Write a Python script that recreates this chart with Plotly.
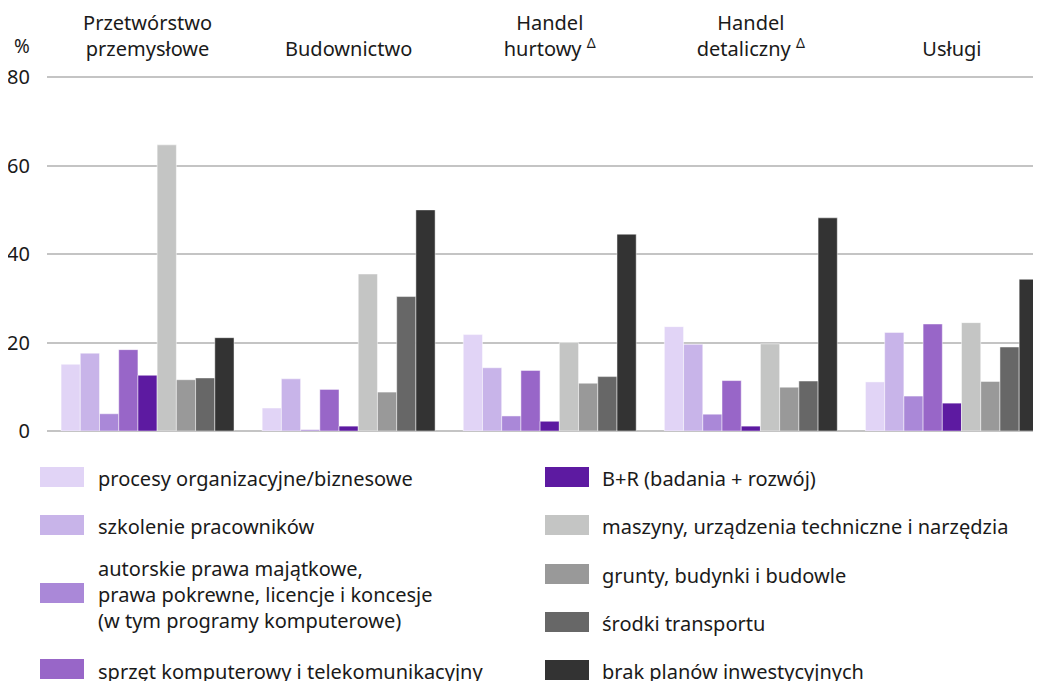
import plotly.graph_objects as go

# ---------------- data ----------------
categories = ["Przetwórstwo<br>przemysłowe", "Budownictwo", "Handel<br>hurtowy <sup>Δ</sup>",
              "Handel<br>detaliczny <sup>Δ</sup>", "Usługi"]

series_names = [
    "procesy organizacyjne/biznesowe",
    "szkolenie pracowników",
    "autorskie prawa majątkowe,<br>prawa pokrewne, licencje i koncesje<br>(w tym programy komputerowe)",
    "sprzęt komputerowy i telekomunikacyjny",
    "B+R (badania + rozwój)",
    "maszyny, urządzenia techniczne i narzędzia",
    "grunty, budynki i budowle",
    "środki transportu",
    "brak planów inwestycyjnych",
]

procesy    = [15.1, 5.2, 21.8, 23.6, 11.1]
szkolenie  = [17.6, 11.8, 14.3, 19.6, 22.3]
autorskie  = [3.9, 0.3, 3.4, 3.8, 7.9]
sprzet     = [18.4, 9.4, 13.7, 11.4, 24.2]
br         = [12.6, 1.1, 2.2, 1.1, 6.3]
maszyny    = [64.7, 35.5, 20.0, 19.7, 24.5]
grunty     = [11.6, 8.8, 10.8, 9.9, 11.2]
srodki     = [12.0, 30.4, 12.3, 11.3, 19.0]
brak       = [21.1, 50.0, 44.5, 48.2, 34.3]

series_values = [procesy, szkolenie, autorskie, sprzet, br, maszyny, grunty, srodki, brak]

colors = ["#e1d4f6", "#c8b4e9", "#aa88d8", "#9866c8", "#5d1aa1",
          "#c4c5c4", "#999999", "#676767", "#333333"]

y_ticks = [0, 20, 40, 60, 80]

# ---------------- figure ----------------
OFF = 8                     # page body margin
W, H = 1041 - OFF, 681 - OFF
L, R, T, B = 47 - OFF, 0, 67, 250
FONT = "Noto Sans"
TXT = "#1a1a1a"

fig = go.Figure()
for name, vals, col in zip(series_names, series_values, colors):
    fig.add_trace(go.Bar(
        x=categories, y=vals, name=name,
        marker=dict(color=col, line=dict(color="rgba(255,255,255,0.6)", width=0.8)),
        showlegend=False,
    ))

plot_w = W - L - R
plot_h = H - T - B


def px_x(px):
    return (px - OFF - L) / plot_w


def px_y(py):
    return (H - B - (py - OFF)) / plot_h


shapes = []
annotations = []

# custom legend (two columns): (series index, swatch centre y, text centre y)
left_items = [(0, 477, 478), (1, 525, 526), (2, 593, 594), (3, 669, 671)]
right_items = [(4, 477, 478), (5, 525, 526), (6, 574, 575), (7, 622, 623), (8, 670, 671)]
for col_items, sx0, sx1, tx in [(left_items, 40, 84, 96), (right_items, 545, 589, 600)]:
    for idx, cy, ty in col_items:
        shapes.append(dict(type="rect", xref="paper", yref="paper",
                           x0=px_x(sx0), x1=px_x(sx1), y0=px_y(cy + 10), y1=px_y(cy - 10),
                           fillcolor=colors[idx], line=dict(width=0)))
        annotations.append(dict(xref="paper", yref="paper", x=px_x(tx), y=px_y(ty),
                                text=series_names[idx], showarrow=False,
                                xanchor="left", yanchor="middle", align="left",
                                font=dict(family=FONT, size=20, color=TXT)))

annotations.append(dict(xref="paper", yref="paper", x=px_x(22), y=px_y(46),
                        text="%", showarrow=False, xanchor="center", yanchor="middle",
                        font=dict(family=FONT, size=19, color=TXT)))

fig.update_layout(
    width=W, height=H,
    margin=dict(l=L, r=R, t=T, b=B, pad=0, autoexpand=False),
    paper_bgcolor="white", plot_bgcolor="white",
    barmode="group", bargap=0.14, bargroupgap=0,
    font=dict(family=FONT, size=20, color=TXT),
    shapes=shapes, annotations=annotations,
    showlegend=False,
)
fig.update_xaxes(
    type="category", side="top", range=[-0.5, 4.443], automargin=False,
    showgrid=False, showline=False, zeroline=False,
    ticks="outside", ticklen=10, tickcolor="rgba(0,0,0,0)",
    tickfont=dict(family=FONT, size=20, color=TXT),
)
fig.update_yaxes(
    range=[0, 80.5], tickvals=y_ticks, showgrid=True, automargin=False,
    gridcolor="#c4c4c4", gridwidth=1.5,
    zeroline=True, zerolinecolor="#c4c4c4", zerolinewidth=1.5,
    showline=False, ticks="outside", ticklen=12, tickcolor="rgba(0,0,0,0)",
    tickfont=dict(family=FONT, size=20, color=TXT),
)

fig.write_html("out.html")
